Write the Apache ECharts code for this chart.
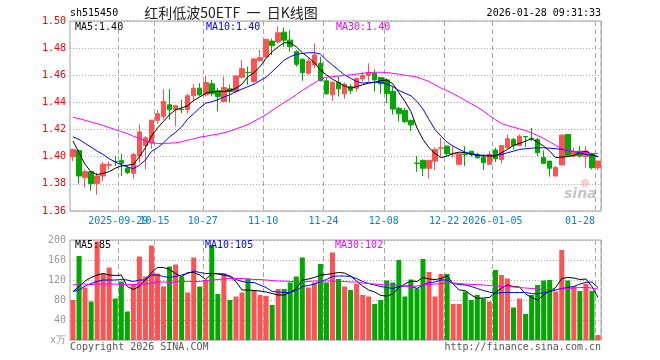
<!DOCTYPE html>
<html><head><meta charset="utf-8">
<script src="https://cdn.jsdelivr.net/npm/echarts@6/dist/echarts.min.js"></script>
<style>html,body{margin:0;padding:0;background:#fff}#c{width:660px;height:360px}</style>
</head><body><div id="c"></div>
<script>
const dates = ['2025-09-17','2025-09-18','2025-09-19','2025-09-22','2025-09-23','2025-09-24','2025-09-25','2025-09-26','2025-09-29','2025-09-30',
'2025-10-09','2025-10-10','2025-10-13','2025-10-14','2025-10-15','2025-10-16','2025-10-17','2025-10-20','2025-10-21','2025-10-22',
'2025-10-23','2025-10-24','2025-10-27','2025-10-28','2025-10-29','2025-10-30','2025-10-31','2025-11-03','2025-11-04','2025-11-05',
'2025-11-06','2025-11-07','2025-11-10','2025-11-11','2025-11-12','2025-11-13','2025-11-14','2025-11-17','2025-11-18','2025-11-19',
'2025-11-20','2025-11-21','2025-11-24','2025-11-25','2025-11-26','2025-11-27','2025-11-28','2025-12-01','2025-12-02','2025-12-03',
'2025-12-04','2025-12-05','2025-12-08','2025-12-09','2025-12-10','2025-12-11','2025-12-12','2025-12-15','2025-12-16','2025-12-17',
'2025-12-18','2025-12-19','2025-12-22','2025-12-23','2025-12-24','2025-12-25','2025-12-26','2025-12-29','2025-12-30','2025-12-31',
'2026-01-05','2026-01-06','2026-01-07','2026-01-08','2026-01-09','2026-01-12','2026-01-13','2026-01-14','2026-01-15','2026-01-16',
'2026-01-19','2026-01-20','2026-01-21','2026-01-22','2026-01-23','2026-01-26','2026-01-27','2026-01-28'];

const openP = [1.400,1.4046,1.3846,1.389,1.3802,1.3858,1.3937,1.3965,1.3971,1.3915,
1.3878,1.4005,1.4083,1.4102,1.4268,1.4298,1.4383,1.4346,1.4348,1.4346,
1.4449,1.4505,1.4456,1.4537,1.4486,1.4407,1.450,1.4481,1.4586,1.4622,
1.4554,1.4708,1.4737,1.4852,1.4845,1.4918,1.4859,1.4774,1.4718,1.4615,
1.4676,1.4688,1.4559,1.4456,1.4547,1.4464,1.4517,1.4505,1.4574,1.4598,
1.4615,1.4583,1.4566,1.4481,1.4356,1.4342,1.4266,1.3953,1.3973,1.3915,
1.3968,1.4063,1.4078,1.4020,1.3944,1.4019,1.4041,1.4017,1.3993,1.3944,
1.4049,1.3980,1.4066,1.4127,1.4083,1.4149,1.4136,1.4127,1.3993,1.3968,
1.3858,1.3939,1.4164,1.4005,1.4041,1.4000,1.4017,1.3919];
const closeP = [1.4054,1.3858,1.389,1.3802,1.3858,1.3944,1.3942,1.3963,1.3951,1.3883,
1.4017,1.4183,1.4139,1.4268,1.4317,1.4407,1.4346,1.4376,1.4346,1.4449,
1.4505,1.4456,1.4547,1.4464,1.4444,1.451,1.4481,1.4595,1.4649,1.462,
1.472,1.473,1.4864,1.4818,1.4913,1.4859,1.481,1.4681,1.462,1.4705,
1.4749,1.4561,1.4464,1.4549,1.450,1.4534,1.4488,1.4576,1.4598,1.4622,
1.4566,1.4537,1.4464,1.4351,1.4317,1.4259,1.4234,1.3951,1.3915,1.3973,
1.4054,1.4066,1.4022,1.4024,1.4022,1.4017,1.4017,1.3993,1.3956,1.4017,
1.3985,1.4083,1.4132,1.4083,1.4151,1.4146,1.4134,1.4029,1.3951,1.3915,
1.392,1.4159,1.401,1.4034,1.4005,1.4041,1.3919,1.3968];
const lowP = [1.3968,1.3802,1.3773,1.3749,1.3719,1.3822,1.3905,1.3932,1.3858,1.3871,
1.3839,1.3956,1.3907,1.4059,1.4244,1.4273,1.4273,1.4224,1.4322,1.4317,
1.4407,1.4444,1.4444,1.4444,1.4334,1.4407,1.440,1.4468,1.4578,1.453,
1.4542,1.470,1.4725,1.4749,1.4837,1.4811,1.4774,1.4664,1.4559,1.4603,
1.4652,1.4554,1.4456,1.4412,1.4444,1.4427,1.4464,1.448,1.4554,1.4554,
1.4481,1.4464,1.4395,1.431,1.4259,1.4249,1.4188,1.3888,1.3858,1.3839,
1.3902,1.400,1.4005,1.3993,1.3944,1.3932,1.400,1.3985,1.3902,1.3944,
1.3961,1.3951,1.4059,1.4054,1.4078,1.4071,1.4115,1.4005,1.3951,1.3854,
1.3854,1.3939,1.400,1.3995,1.3993,1.3919,1.3907,1.3902];
const highP = [1.4059,1.4046,1.3907,1.3895,1.3883,1.3961,1.3965,1.4005,1.4022,1.3932,
1.4029,1.4237,1.4151,1.4273,1.4346,1.4498,1.4498,1.4383,1.442,1.4464,
1.4534,1.4542,1.4595,1.4566,1.4505,1.459,1.453,1.4595,1.471,1.4664,
1.4725,1.4786,1.4871,1.4871,1.4961,1.4952,1.4932,1.4786,1.4725,1.4725,
1.4835,1.4737,1.4578,1.4554,1.4591,1.4547,1.4534,1.4583,1.4622,1.4688,
1.4644,1.4583,1.4578,1.4517,1.4366,1.4359,1.4273,1.4005,1.398,1.3973,
1.4071,1.414,1.4083,1.4083,1.4029,1.4078,1.4041,1.4029,1.4017,1.4041,
1.4066,1.4083,1.4164,1.4139,1.4164,1.4151,1.4212,1.4139,1.4046,1.3968,
1.3932,1.4164,1.4168,1.4066,1.4078,1.4078,1.4029,1.3968];

const ma5 = [1.4115,1.4029,1.3944,1.3888,1.3868,1.3878,1.389,1.3915,1.3932,1.3937,
1.3944,1.400,1.4066,1.4151,1.4212,1.4261,1.431,1.4346,1.4359,1.4376,
1.4415,1.444,1.4468,1.4478,1.4481,1.4481,1.4486,1.4505,1.4534,1.459,
1.462,1.4664,1.4725,1.4773,1.481,1.484,1.484,1.481,1.4766,1.4732,
1.4693,1.4639,1.4603,1.4571,1.4547,1.4522,1.4505,1.4517,1.453,1.4542,
1.4549,1.4561,1.4566,1.4537,1.4473,1.4407,1.4334,1.4212,1.4127,1.4066,
1.4024,1.3993,1.4005,1.4024,1.4034,1.4029,1.4017,1.401,1.4005,1.4005,
1.4005,1.4029,1.4054,1.4083,1.4098,1.4115,1.4132,1.4107,1.4078,1.4041,
1.3993,1.3998,1.400,1.401,1.4029,1.4041,1.4017,1.400];
const ma10 = [1.4146,1.4127,1.4098,1.4071,1.4041,1.4017,1.3985,1.3961,1.3941,1.3924,
1.3912,1.3937,1.3976,1.4039,1.4066,1.4102,1.4146,1.418,1.422,1.4278,
1.4317,1.4359,1.4395,1.4405,1.442,1.444,1.4456,1.4481,1.4498,1.4517,
1.4534,1.4561,1.4586,1.4627,1.4669,1.4712,1.4737,1.4754,1.4761,1.4766,
1.4766,1.4756,1.4712,1.4676,1.4639,1.4603,1.4578,1.4554,1.4542,1.4547,
1.4549,1.4547,1.4537,1.4517,1.4488,1.4468,1.4449,1.4407,1.4351,1.4273,
1.420,1.4151,1.4107,1.4078,1.4054,1.4034,1.4022,1.4015,1.401,1.401,
1.401,1.4015,1.4029,1.4041,1.4054,1.4059,1.4063,1.4066,1.4066,1.4063,
1.4059,1.4054,1.4046,1.4039,1.4029,1.4017,1.401,1.4002];
const ma30 = [1.4291,1.4281,1.4268,1.4256,1.4244,1.423,1.4215,1.420,1.4185,1.4171,
1.4151,1.4134,1.4115,1.4102,1.4098,1.4098,1.410,1.4102,1.411,1.4122,
1.4132,1.4144,1.4151,1.4159,1.4166,1.4176,1.4188,1.4205,1.422,1.4237,
1.4261,1.4285,1.431,1.4342,1.4371,1.440,1.4427,1.4456,1.4488,1.4517,
1.4542,1.4571,1.4586,1.459,1.4595,1.4598,1.4603,1.4608,1.4615,1.462,
1.4622,1.4622,1.462,1.4615,1.4608,1.460,1.4595,1.4586,1.4571,1.4554,
1.453,1.4505,1.4486,1.4464,1.444,1.4415,1.439,1.4366,1.4337,1.4303,
1.4273,1.4244,1.423,1.4217,1.4205,1.4193,1.4176,1.4156,1.4134,1.411,
1.4083,1.4061,1.4046,1.4039,1.4034,1.4029,1.4024,1.4022];

const vol = [80,168,105,77,197,133,145,83,117,57,
112,167,127,189,133,107,147,151,127,95,
165,107,120,190,92,133,80,87,95,123,
100,90,88,70,102,102,115,127,165,105,
115,152,115,175,122,107,100,112,90,87,
72,80,119,115,160,87,121,103,162,136,
87,132,132,72,72,97,80,90,83,77,
140,130,123,65,83,52,90,110,119,120,
97,180,119,108,98,112,98,10];
const vma5 = [97,107,118,125,130,133,130,129,130,107,
101,107,121,135,145,145,141,133,127,135,
135,130,121,133,132,130,127,117,100,100,
99,98,96,93,90,90,95,103,120,122,
125,130,131,133,135,134,128,118,108,100,
96,89,88,92,105,112,118,117,125,122,
121,123,128,112,100,99,90,83,84,85,
95,104,110,107,106,92,85,80,90,98,
105,123,125,124,121,122,107,85];
const vma10 = [97,100,108,113,117,120,120,120,121,120,
117,120,120,130,130,127,125,127,130,133,
138,135,133,133,133,132,128,121,117,115,
115,110,105,97,96,95,95,99,107,109,
112,117,121,127,128,128,127,123,117,113,
110,107,105,103,107,108,108,103,110,115,
116,120,120,113,111,110,107,103,99,96,
93,95,95,95,95,95,93,92,95,97,
100,103,105,107,112,115,116,105];
const vma30 = [110,112,112,111,112,112,112,112,111,111,
111,111,112,114,116,116,115,116,117,117,
117,117,119,120,121,122,123,123,123,122,
121,121,120,119,118,118,117,117,117,117,
118,118,118,118,117,117,116,116,114,113,
112,111,110,110,109,108,107,108,110,111,
112,113,114,114,113,112,111,111,110,109,
108,107,107,106,105,104,103,102,101,101,
101,102,103,104,105,105,104,102];

const tickIdx = [8,14,22,32,42,52,62,70,87];
const tickText = ['2025-09-29','10-15','10-27','11-10','11-24','12-08','12-22','2026-01-05','01-28'];
const priceTicks = {min:1.36, max:1.50, step:0.02};
const volTicks = {min:0, max:200, step:40};

const UP = '#ff5252', DOWN = '#00a800';
const MONO = '"DejaVu Sans Mono", monospace';
const tickSet = new Set(tickIdx);
const tickFn = (i) => tickSet.has(i);
// the second label collides with the first one; it is drawn by an overlay axis so both stay visible
const overlayIdx = tickIdx[1];
const mainLabelFn = (i) => tickSet.has(i) && i !== overlayIdx;
const overlayLabelFn = (i) => i === overlayIdx;

const chart = echarts.init(document.getElementById('c'), null, {renderer:'canvas'});
const splitH = {show:true, lineStyle:{color:'#a8a8a8', type:[1,2], width:1}};
const splitV = {show:true, interval:tickFn, lineStyle:{color:'#a8a8a8', type:[5,3], width:1}};
const labelFmt = (v,i)=>{const k=tickIdx.indexOf(i); const t=k>=0?tickText[k]:''; return i===tickIdx[tickIdx.length-1]?'{r|'+t+'}':'{n|'+t+'}';};
const labelRich = {
  n:{color:'#0a80d2', fontSize:10, fontFamily:MONO, padding:[0,6,0,0]},
  r:{color:'#0a80d2', fontSize:10, fontFamily:MONO, padding:[0,36,0,0]}
};

function line(name, data, color, xi, yi){
  return {type:'line', name, data, xAxisIndex:xi, yAxisIndex:yi, showSymbol:false, symbol:'none',
    lineStyle:{color, width:1}, itemStyle:{color}, silent:true, animation:false, z:5};
}
function txt(text, x, y, color, font, align){
  return {type:'text', x, y, silent:true, z:100,
    style:{text, fill:color, font, align:align||'left', verticalAlign:'middle', textAlign:align||'left', textVerticalAlign:'middle'}};
}

const option = {
  animation:false,
  backgroundColor:'#fff',
  grid:[
    {left:70, right:59, top:21, height:190, show:true, borderColor:'#a0a0a0', borderWidth:1},
    {left:70, right:59, top:240, height:100, show:true, borderColor:'#a0a0a0', borderWidth:1}
  ],
  xAxis:[
    {type:'category', gridIndex:0, data:dates, boundaryGap:true, position:'bottom',
      axisLine:{show:false}, axisTick:{show:false},
      axisLabel:{show:true, interval:mainLabelFn, margin:5, hideOverlap:false, formatter:labelFmt, rich:labelRich},
      splitLine:splitV},
    {type:'category', gridIndex:1, data:dates, boundaryGap:true,
      axisLine:{show:false}, axisTick:{show:false},
      axisLabel:{show:false, interval:tickFn}, splitLine:splitV},
    {type:'category', gridIndex:0, data:dates, boundaryGap:true, position:'bottom', offset:0,
      axisLine:{show:false}, axisTick:{show:false}, splitLine:{show:false},
      axisLabel:{show:true, interval:overlayLabelFn, margin:5, hideOverlap:false, formatter:labelFmt, rich:labelRich}}
  ],
  yAxis:[
    {type:'value', gridIndex:0, min:priceTicks.min, max:priceTicks.max, interval:priceTicks.step, scale:true,
      axisLine:{show:false}, axisTick:{show:false},
      axisLabel:{color:'#ff0000', fontSize:10, fontFamily:MONO, margin:4, formatter:(v)=>v.toFixed(2)},
      splitLine:splitH},
    {type:'value', gridIndex:1, min:volTicks.min, max:volTicks.max, interval:volTicks.step,
      axisLine:{show:false}, axisTick:{show:false},
      axisLabel:{color:'#999', fontSize:10, fontFamily:MONO, margin:4, formatter:(v)=>v===0?'x万':String(v)},
      splitLine:splitH}
  ],
  series:[
    {type:'candlestick', xAxisIndex:0, yAxisIndex:0, barWidth:5,
      data:dates.map((d,i)=>[openP[i],closeP[i],lowP[i],highP[i]]),
      itemStyle:{color:UP, color0:DOWN, borderColor:UP, borderColor0:DOWN, borderColorDoji:DOWN, borderWidth:1}, z:3},
    line('MA5', ma5, '#000000', 0, 0),
    line('MA10', ma10, '#0000ff', 0, 0),
    line('MA30', ma30, '#ff00ff', 0, 0),
    {type:'bar', xAxisIndex:1, yAxisIndex:1, barWidth:5,
      data:vol.map((v,i)=>({value:v, itemStyle:{color: closeP[i]>=openP[i]?UP:DOWN}})), z:3},
    line('VMA5', vma5, '#000000', 1, 1),
    line('VMA10', vma10, '#0000ff', 1, 1),
    line('VMA30', vma30, '#ff00ff', 1, 1),
    {type:'line', xAxisIndex:2, yAxisIndex:0, data:[], showSymbol:false, silent:true}
  ],
  graphic:[
    txt('sh515450', 70, 13, '#000', '10px '+MONO),
    txt('红利低波50ETF  一  日K线图', 231, 13, '#222', '14px "Noto Sans CJK SC"', 'center'),
    txt('2026-01-28 09:31:33', 601, 13, '#000', '10px '+MONO, 'right'),
    txt('MA5:'+ma5[87].toFixed(2), 75, 27, '#000', '10px '+MONO),
    txt('MA10:'+ma10[87].toFixed(2), 206, 27, '#0000ff', '10px '+MONO),
    txt('MA30:'+ma30[87].toFixed(2), 336, 27, '#ff00ff', '10px '+MONO),
    txt('MA5:'+vma5[87], 75, 245, '#000', '10px '+MONO),
    txt('MA10:'+vma10[87], 205, 245, '#0000ff', '10px '+MONO),
    txt('MA30:'+vma30[87], 335, 245, '#ff00ff', '10px '+MONO),
    txt('Copyright 2026 SINA.COM', 70, 347, '#555', '10px '+MONO),
    txt('http://finance.sina.com.cn', 601, 347, '#555', '10px '+MONO, 'right'),
    {type:'circle', shape:{cx:585, cy:183, r:4}, silent:true, z:1, style:{fill:'rgba(240,120,120,0.35)'}},
    txt('sina', 564, 194, 'rgba(150,150,150,0.55)', 'italic bold 14px "DejaVu Sans"')
  ]
};
chart.setOption(option);
</script></body></html>
